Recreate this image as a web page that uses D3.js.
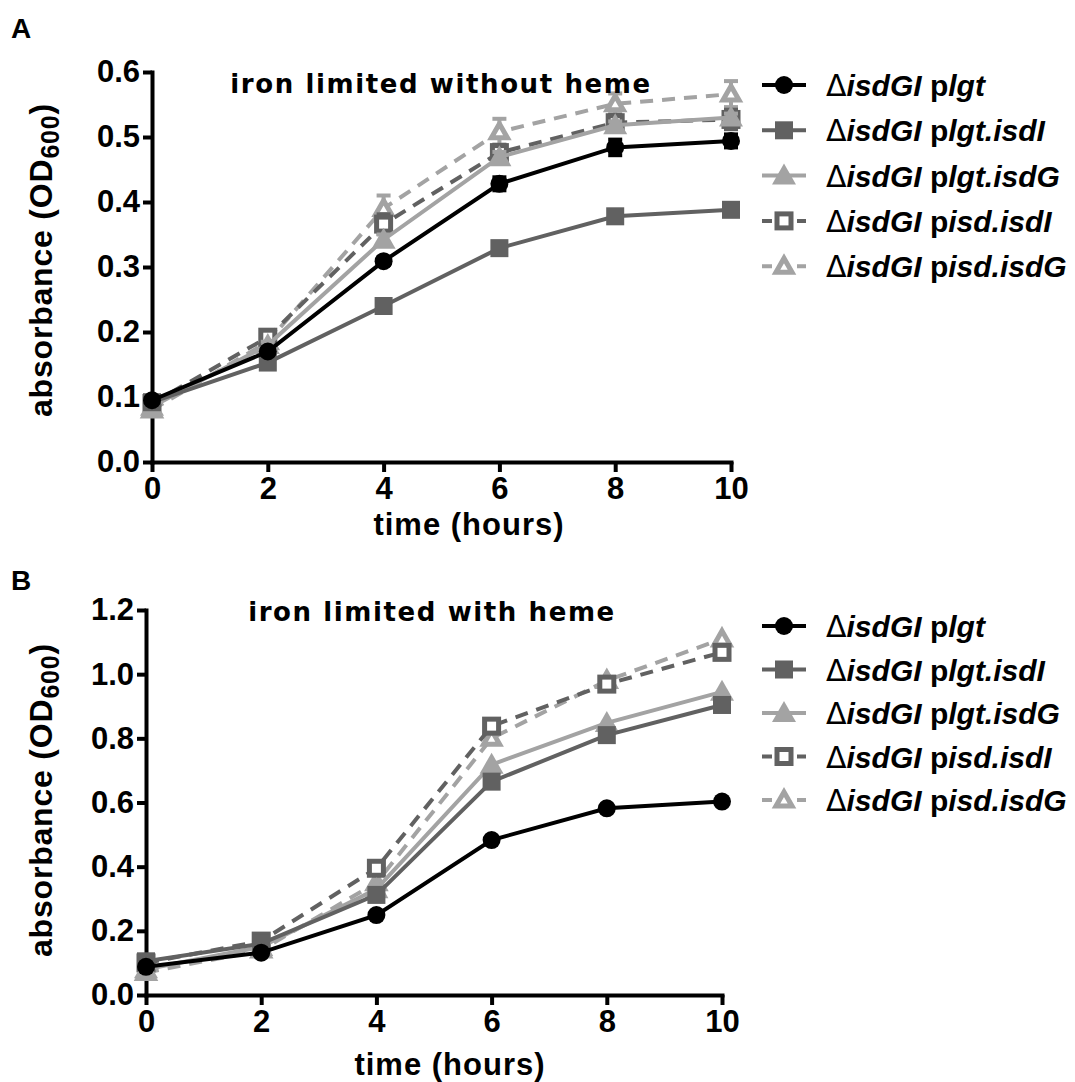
<!DOCTYPE html>
<html><head><meta charset="utf-8">
<script src="https://cdn.jsdelivr.net/npm/d3@7"></script>
<style>
body{margin:0;background:#fff;}
svg text{font-family:"Liberation Sans",Arial,sans-serif;}
</style></head>
<body><svg id="chart" width="1075" height="1082"></svg>
<script>
const hours = [0, 2, 4, 6, 8, 10];
const strainNames = ["lgt", "lgt.isdI", "lgt.isdG", "isd.isdI", "isd.isdG"];

// Panel A: iron limited without heme
const aPlgt        = [0.095, 0.170, 0.309, 0.428, 0.484, 0.494];
const aPlgtIsdI    = [0.092, 0.153, 0.240, 0.329, 0.378, 0.388];
const aPlgtIsdG    = [0.085, 0.180, 0.342, 0.469, 0.518, 0.530];
const aPisdIsdI    = [0.090, 0.192, 0.366, 0.476, 0.522, 0.527];
const aPisdIsdG    = [0.080, 0.185, 0.390, 0.508, 0.551, 0.566];
const aErrPlgt     = [0.004, 0.005, 0.006, 0.010, 0.012, 0.010];
const aErrPlgtIsdI = [0.004, 0.004, 0.005, 0.005, 0.005, 0.005];
const aErrPlgtIsdG = [0.004, 0.005, 0.008, 0.008, 0.006, 0.006];
const aErrPisdIsdI = [0.004, 0.005, 0.015, 0.012, 0.012, 0.015];
const aErrPisdIsdG = [0.004, 0.006, 0.020, 0.020, 0.016, 0.020];

// Panel B: iron limited with heme
const bPlgt        = [0.088, 0.132, 0.249, 0.483, 0.582, 0.603];
const bPlgtIsdI    = [0.105, 0.160, 0.312, 0.665, 0.810, 0.904];
const bPlgtIsdG    = [0.080, 0.150, 0.330, 0.718, 0.848, 0.945];
const bPisdIsdI    = [0.100, 0.168, 0.395, 0.838, 0.969, 1.068];
const bPisdIsdG    = [0.070, 0.140, 0.350, 0.800, 0.980, 1.110];

const yTicksA = [0, 0.1, 0.2, 0.3, 0.4, 0.5, 0.6];
const yTicksB = [0, 0.2, 0.4, 0.6, 0.8, 1.0, 1.2];
const xTicks  = [0, 2, 4, 6, 8, 10];

const BLACK = "#000000", DARK = "#616161", LIGHT = "#a3a3a3";
const styles = [
  {color: BLACK, marker: "circle",   dashed: false, open: false},
  {color: DARK,  marker: "square",   dashed: false, open: false},
  {color: LIGHT, marker: "triangle", dashed: false, open: false},
  {color: DARK,  marker: "square",   dashed: true,  open: true},
  {color: LIGHT, marker: "triangle", dashed: true,  open: true}
];

const svg = d3.select("#chart");

function drawMarker(g, st, cx, cy) {
  if (st.marker === "circle") {
    g.append("circle").attr("cx", cx).attr("cy", cy).attr("r", 9).attr("fill", st.color);
  } else if (st.marker === "square") {
    if (st.open) {
      g.append("rect").attr("x", cx - 7).attr("y", cy - 7).attr("width", 14).attr("height", 14)
        .attr("fill", "#fff").attr("stroke", st.color).attr("stroke-width", 5);
    } else {
      g.append("rect").attr("x", cx - 9).attr("y", cy - 9).attr("width", 18).attr("height", 18).attr("fill", st.color);
    }
  } else {
    const s = 12;
    const pts = [[cx, cy - s], [cx + s, cy + s * 0.75], [cx - s, cy + s * 0.75]];
    if (st.open) {
      const t = 8;
      const p2 = [[cx, cy - t], [cx + t, cy + t * 0.75], [cx - t, cy + t * 0.75]];
      g.append("polygon").attr("points", p2.map(p => p.join(",")).join(" "))
        .attr("fill", "#fff").attr("stroke", st.color).attr("stroke-width", 5).attr("stroke-linejoin", "miter");
    } else {
      g.append("polygon").attr("points", pts.map(p => p.join(",")).join(" ")).attr("fill", st.color);
    }
  }
}

function drawPanel(cfg) {
  const x = d3.scaleLinear().domain([0, 10]).range([cfg.x0, cfg.x1]);
  const y = d3.scaleLinear().domain([0, cfg.yMax]).range([cfg.y0, cfg.y1]);
  const g = svg.append("g");

  // axes
  const ya = g.append("g").attr("transform", `translate(${cfg.x0},0)`)
    .call(d3.axisLeft(y).tickValues(cfg.yTicks).tickFormat(d3.format(".1f")).tickSize(9).tickSizeOuter(0).tickPadding(3));
  const xa = g.append("g").attr("transform", `translate(0,${cfg.y0})`)
    .call(d3.axisBottom(x).tickValues(xTicks).tickFormat(d3.format("d")).tickSize(10).tickSizeOuter(0).tickPadding(5));
  [ya, xa].forEach(a => {
    a.select(".domain").attr("stroke", "#000").attr("stroke-width", 4).attr("stroke-linecap", "square");
    a.selectAll(".tick line").attr("stroke", "#000").attr("stroke-width", 4);
    a.selectAll(".tick text").attr("fill", "#000").style("font-size", "31px").style("font-weight", "bold")
      .style("font-family", '"Liberation Sans", Arial, sans-serif');
  });

  // series
  const line = d3.line().x((d, i) => x(hours[i])).y(d => y(d));
  const order = [4, 3, 2, 1, 0];
  order.forEach(k => {
    const st = styles[k];
    const vals = cfg.series[k];
    const errs = cfg.errors ? cfg.errors[k] : null;
    const sg = g.append("g");
    if (errs) {
      vals.forEach((v, i) => {
        const cx = x(hours[i]);
        sg.append("line").attr("x1", cx).attr("x2", cx).attr("y1", y(v - errs[i])).attr("y2", y(v + errs[i]))
          .attr("stroke", st.color).attr("stroke-width", 4);
        [v - errs[i], v + errs[i]].forEach(e => {
          sg.append("line").attr("x1", cx - 7).attr("x2", cx + 7).attr("y1", y(e)).attr("y2", y(e))
            .attr("stroke", st.color).attr("stroke-width", 4);
        });
      });
    }
    sg.append("path").datum(vals).attr("d", line).attr("fill", "none")
      .attr("stroke", st.color).attr("stroke-width", 4)
      .attr("stroke-dasharray", st.dashed ? "13,9" : null);
    vals.forEach((v, i) => drawMarker(sg, st, x(hours[i]), y(v)));
  });

  // title
  g.append("text").attr("x", cfg.titleX).attr("y", cfg.titleY).attr("text-anchor", "middle")
    .style("font-family", '"DejaVu Sans", Verdana, sans-serif').style("font-weight", "bold")
    .style("font-size", "26px").style("letter-spacing", "1.6px").text(cfg.title);

  // x axis title
  g.append("text").attr("x", cfg.xTitleX).attr("y", cfg.xTitleY).attr("text-anchor", "middle")
    .style("font-size", "31px").style("font-weight", "bold").style("letter-spacing", "1px").text("time (hours)");

  // y axis title
  const yt = g.append("text").attr("transform", `translate(${cfg.yTitleX},${cfg.yTitleY}) rotate(-90)`)
    .attr("text-anchor", "middle").style("font-size", "32px").style("font-weight", "bold")
    .style("letter-spacing", "0.8px");
  yt.append("tspan").text("absorbance (OD");
  yt.append("tspan").attr("dy", 7).style("font-size", "25px").text("600");
  yt.append("tspan").attr("dy", -7).text(")");

  // panel letter
  g.append("text").attr("x", cfg.letterX).attr("y", cfg.letterY).style("font-size", "28px")
    .style("font-weight", "bold").text(cfg.letter);

  // legend
  const lg = g.append("g");
  strainNames.forEach((name, k) => {
    const st = styles[k];
    const cy = cfg.legY + k * cfg.legStep;
    lg.append("line").attr("x1", 762).attr("x2", 806).attr("y1", cy).attr("y2", cy)
      .attr("stroke", st.color).attr("stroke-width", 4)
      .attr("stroke-dasharray", st.dashed ? "10,25,9" : null);
    drawMarker(lg, st, 784, cy);
    const t = lg.append("text").attr("x", 826).attr("y", cy + 11).style("font-size", "30px").style("font-weight", "bold");
    t.append("tspan").style("font-weight", "normal").style("font-family", '"DejaVu Sans", sans-serif').text("\u0394");
    t.append("tspan").style("font-style", "italic").text("isdGI");
    t.append("tspan").text(" p");
    t.append("tspan").style("font-style", "italic").text(name);
  });
}

drawPanel({
  letter: "A", letterX: 11, letterY: 38,
  x0: 152, x1: 731, y0: 462, y1: 72, yMax: 0.6, yTicks: yTicksA,
  series: [aPlgt, aPlgtIsdI, aPlgtIsdG, aPisdIsdI, aPisdIsdG],
  errors: [aErrPlgt, aErrPlgtIsdI, aErrPlgtIsdG, aErrPisdIsdI, aErrPisdIsdG],
  title: "iron limited without heme", titleX: 441, titleY: 93,
  xTitleX: 469, xTitleY: 535, yTitleX: 52, yTitleY: 260,
  legY: 85, legStep: 45.3
});

drawPanel({
  letter: "B", letterX: 11, letterY: 590,
  x0: 146, x1: 722, y0: 995, y1: 610, yMax: 1.2, yTicks: yTicksB,
  series: [bPlgt, bPlgtIsdI, bPlgtIsdG, bPisdIsdI, bPisdIsdG],
  errors: null,
  title: "iron limited with heme", titleX: 432, titleY: 621,
  xTitleX: 450, xTitleY: 1075, yTitleX: 52, yTitleY: 800,
  legY: 626, legStep: 43.5
});
</script></body></html>
